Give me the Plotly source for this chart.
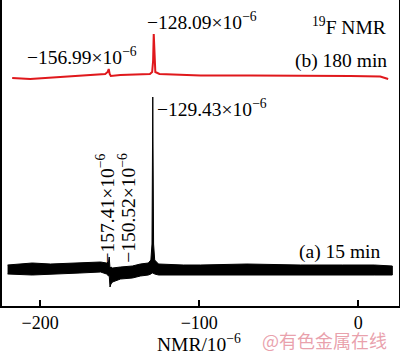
import plotly.graph_objects as go

# ---- data (y is relative intensity, arbitrary units) ----
# (a) 15 min : noisy black spectrum, given as upper/lower envelope of the noise band
ppm_a = [-220.5, -205.0, -193.5, -175.0, -162.0, -158.3, -157.0, -156.6, -156.1, -155.5,
         -154.5, -149.5, -142.0, -137.0, -132.0, -130.4, -129.7, -129.2, -128.7, -128.0,
         -125.6, -110.0, -99.2, -70.0, -36.4, -10.0, 10.0, 21.4]
upper_a = [41, 43, 42, 43, 44, 43, 44, 49, 38, 39,
           38, 39, 40, 42, 43, 46, 62, 209, 62, 46,
           42, 41, 41, 42, 41, 41, 41, 40]
lower_a = [32, 31, 32, 33, 34, 32, 30, 31, 19, 22,
           24, 27, 28, 30, 31, 32, 33, 33, 33, 32,
           31, 31, 31, 31, 31, 31, 31, 31]

# (b) 180 min : red spectrum
ppm_b = [-217.6, -206.3, -187.4, -168.6, -159.1, -157.6, -156.9, -156.3, -155.6, -149.6,
         -140.0, -131.0, -129.6, -129.0, -128.6, -128.2, -127.6, -125.0, -99.2, -67.8,
         -36.4, -5.0, 13.8, 17.6, 18.8]
int_b = [228, 227, 229, 231, 232, 234, 237, 232, 230, 231,
         231.5, 232, 234, 245, 272, 245, 234, 232, 230.5, 230.5,
         230.5, 230, 229.5, 228, 227]

x_ticks = [-200, -100, 0]

fig = go.Figure()

# black band (filled polygon between envelopes)
fig.add_trace(go.Scatter(
    x=ppm_a + ppm_a[::-1],
    y=upper_a + lower_a[::-1],
    fill="toself", fillcolor="black",
    line=dict(color="black", width=1),
    mode="lines", hoverinfo="skip", showlegend=False))

fig.add_trace(go.Scatter(
    x=ppm_b, y=int_b, mode="lines",
    line=dict(color="#e0181c", width=2),
    hoverinfo="skip", showlegend=False))

serif = "Liberation Serif, Times New Roman, serif"
tf = dict(family=serif, size=18, color="black")
af = dict(family=serif, size=19.5, color="black")

def ann(text, x, y, xanchor="center", yanchor="middle", angle=0):
    fig.add_annotation(text=text, x=x, y=y, xref="x", yref="y",
                       xanchor=xanchor, yanchor=yanchor, textangle=angle,
                       showarrow=False, font=af)

ann("−128.09×10<sup>−6</sup>", -98.5, 285)
ann("−156.99×10<sup>−6</sup>", -174.0, 250)
ann("<sup>19</sup>F NMR", 18.5, 280, xanchor="right")
ann("(b) 180 min", 19.0, 245, xanchor="right")
ann("−129.43×10<sup>−6</sup>", -127.7, 198, xanchor="left")
ann("(a) 15 min", 15.0, 54, xanchor="right")
ann("−157.41×10<sup>−6</sup>", -159.0, 98, angle=-90)
ann("−150.52×10<sup>−6</sup>", -145.5, 98, angle=-90)

# axis title (placed as annotation below the tick labels)
fig.add_annotation(text="NMR/10<sup>−6</sup>", xref="paper", yref="paper",
                   x=0.497, y=-0.12, xanchor="center", yanchor="middle",
                   showarrow=False, font=af)

# watermark
fig.add_annotation(text="@有色金属在线", xref="paper", yref="paper",
                   x=0.975, y=-0.11, xanchor="right", yanchor="middle",
                   showarrow=False,
                   font=dict(family="Noto Sans CJK SC", size=18,
                             color="rgba(226,130,145,0.75)"))

fig.update_layout(
    width=400, height=353,
    margin=dict(l=2, r=1, t=0, b=47),
    paper_bgcolor="white", plot_bgcolor="white",
    xaxis=dict(range=[-224, 25.6], tickvals=x_ticks,
               ticktext=["−200", "−100", "0"],
               ticks="inside", ticklen=6, tickwidth=1.5, tickcolor="black",
               showline=True, linecolor="black", linewidth=1.5,
               showgrid=False, zeroline=False,
               tickfont=tf),
    yaxis=dict(range=[0, 306], showticklabels=False, ticks="",
               showline=True, mirror=True, linecolor="black", linewidth=1.5,
               showgrid=False, zeroline=False),
)

fig.write_html("out.html")
